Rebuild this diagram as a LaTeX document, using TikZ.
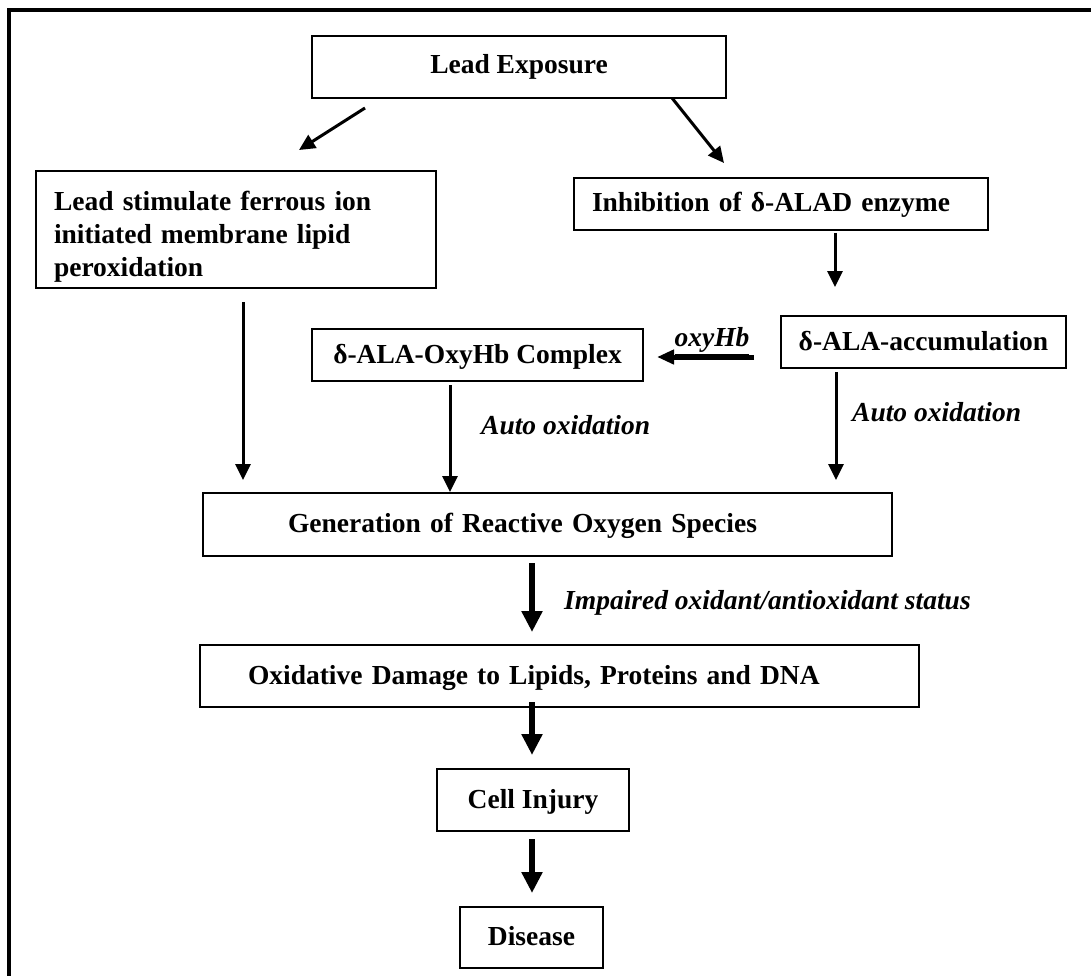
\documentclass[tikz,border=0pt]{standalone}
\usepackage{fontspec}
\setmainfont{Liberation Serif}
\usetikzlibrary{arrows.meta}
\begin{document}
\begin{tikzpicture}[x=1pt,y=-1pt,
  box/.style={draw, line width=2.5pt, rectangle, inner sep=0pt, font=\fontsize{27.5}{33}\selectfont\bfseries},
  lbl/.style={inner sep=0pt, font=\fontsize{27.5}{33}\selectfont\bfseries\itshape, anchor=west},
  thinarrow/.style={line width=3pt, -{Triangle[length=16pt,width=15pt]}},
  thickarrow/.style={line width=5.5pt, -{Triangle[length=21pt,width=20pt]}},
  midarrow/.style={line width=5pt, -{Triangle[length=17pt,width=14pt]}},
]
\useasboundingbox (0,0) rectangle (1091,976);
\fill[white] (0,0) rectangle (1091,976);
\draw[line width=4pt] (9,976) -- (9,10) -- (1091,10);

% boxes
\node[box, minimum width=414pt, minimum height=62pt] (lead) at (519,67) {Lead Exposure};
\node[box, minimum width=400pt, minimum height=117pt, text width=364pt, align=left] (lipid) at (236,229.5)
  {\rule{0pt}{34pt}Lead stimulate ferrous ion\\initiated membrane lipid\\peroxidation};
\node[box, minimum width=414pt, minimum height=52pt, text width=378pt, align=left] (inhib) at (781,204)
  {\rule[-7pt]{0pt}{30pt}Inhibition of δ-ALAD enzyme};
\node[box, minimum width=331pt, minimum height=52pt] (oxyhb) at (477.5,355) {\rule[-7pt]{0pt}{30pt}δ-ALA-OxyHb Complex};
\node[box, minimum width=285pt, minimum height=52pt] (accum) at (923.5,342) {\rule[-7pt]{0pt}{30pt}δ-ALA-accumulation};
\node[box, minimum width=689pt, minimum height=63pt, text width=519pt, align=left] (gen) at (547.5,524.5)
  {\rule[-7pt]{0pt}{30pt}Generation of Reactive Oxygen Species};
\node[box, minimum width=719pt, minimum height=62pt, text width=623pt, align=left] (oxd) at (559.5,676)
  {\rule[-7pt]{0pt}{30pt}Oxidative Damage to Lipids, Proteins and DNA};
\node[box, minimum width=192pt, minimum height=62pt] (cell) at (533,800) {\rule[-7pt]{0pt}{30pt}Cell Injury};
\node[box, minimum width=143pt, minimum height=61pt] (dis) at (531.5,937.5) {\rule[-7pt]{0pt}{30pt}Disease};

% labels
\node[lbl, anchor=center] (oxylbl) at (712,341) {\underline{oxyHb}};
\node[lbl] (auto1) at (481,425) {Auto oxidation};
\node[lbl] (auto2) at (852,412) {Auto oxidation};
\node[lbl] (impair) at (564,603) {Impaired oxidant/antioxidant status};

% connector end points
\coordinate (leadL) at (365,108);   \coordinate (lipidT) at (299,150);
\coordinate (leadR) at (672,98);    \coordinate (inhibT) at (724,163);
\coordinate (inhibB) at (835,233);  \coordinate (accumT) at (835,287);
\coordinate (lipidB) at (243,302);  \coordinate (genL) at (243,480);
\coordinate (oxyhbB) at (450,385);  \coordinate (genM) at (450,492);
\coordinate (accumB) at (836,372);  \coordinate (genR) at (836,480);
\coordinate (accumW) at (754,357);  \coordinate (oxyhbE) at (657,357);
\coordinate (genB) at (532,563);    \coordinate (oxdT) at (532,632);
\coordinate (oxdB) at (532,702);    \coordinate (cellT) at (532,755);
\coordinate (cellB) at (532,839);   \coordinate (disT) at (532,893);

\draw[thinarrow] (leadL) -- (lipidT);
\draw[thinarrow] (leadR) -- (inhibT);
\draw[thinarrow] (inhibB) -- (accumT);
\draw[thinarrow] (lipidB) -- (genL);
\draw[thinarrow] (oxyhbB) -- (genM);
\draw[thinarrow] (accumB) -- (genR);
\draw[midarrow] (accumW) -- (oxyhbE);
\draw[thickarrow] (genB) -- (oxdT);
\draw[thickarrow] (oxdB) -- (cellT);
\draw[thickarrow] (cellB) -- (disT);
\end{tikzpicture}
\end{document}
